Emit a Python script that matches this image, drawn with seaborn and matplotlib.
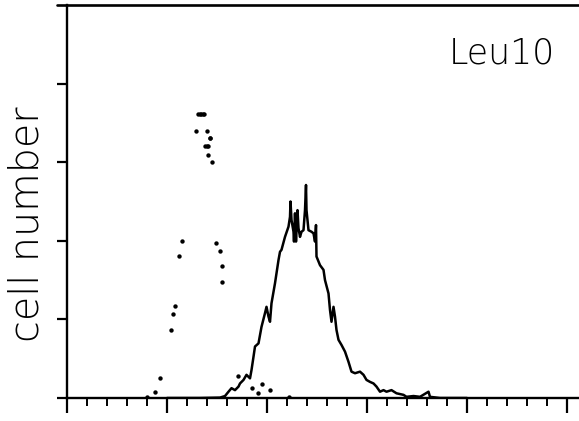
import matplotlib
matplotlib.use("Agg")
import matplotlib.pyplot as plt
import seaborn as sns
import pandas as pd
from matplotlib.ticker import MultipleLocator, FixedLocator

# Leu10-stained sample (solid histogram trace)
leu10_channel = [200, 266, 306, 316, 323, 329, 336, 343, 346, 353, 359, 366, 369, 373, 376,
                 383, 389, 396, 399, 403, 406, 409, 416, 423, 426, 429, 436, 443, 446, 447,
                 449, 453, 454, 456, 458, 461, 463, 466, 469, 473, 476, 478, 479, 483, 489,
                 493, 496, 498, 499, 506, 513, 516, 523, 526, 529, 533, 536, 539, 543, 549,
                 556, 563, 569, 576, 586, 593, 599, 606, 613, 619, 626, 633, 639, 649, 659,
                 673, 679, 693, 706, 723, 726, 746, 766, 800]
leu10_count = [0.0, 0.0, 0.1, 0.5, 1.6, 2.5, 2.0, 2.9, 3.7, 4.6, 5.9, 5.0, 7.1, 10.5, 13.1,
               13.9, 18.1, 21.6, 23.2, 20.7, 19.4, 24.1, 29.2, 35.1, 37.2, 37.7, 41.0, 43.6, 46.1, 50.0,
               45.3, 42.3, 39.8, 47.0, 39.8, 47.8, 43.2, 41.0, 42.3, 42.7, 47.8, 54.2, 47.8, 42.7, 42.3,
               41.9, 39.8, 44.0, 36.0, 33.8, 32.6, 30.0, 26.6, 22.4, 19.4, 23.2, 20.7, 17.3, 14.8, 13.5,
               11.8, 9.2, 6.7, 6.3, 6.7, 5.9, 4.6, 4.1, 3.7, 2.9, 1.6, 2.0, 1.6, 2.0, 1.2,
               0.8, 0.3, 0.5, 0.3, 1.6, 0.3, 0.0, 0.0, 0.0]

# Control sample (dotted trace)
control_channel = [160, 175, 186, 207, 212, 215, 224, 230, 258, 262, 265, 268, 271, 274, 279,
                   276, 279, 282, 285, 281, 285, 289, 297, 305, 309, 309, 341, 369, 381, 389,
                   405, 444]
control_count = [0.3, 1.4, 5.0, 17.3, 21.3, 23.4, 36.2, 40.0, 68.0, 72.3, 72.3, 72.3, 72.3, 72.3, 68.0,
                 64.0, 64.0, 64.0, 66.1, 61.8, 66.1, 60.0, 39.5, 37.4, 33.6, 29.4, 5.6, 2.5, 1.3, 3.5,
                 2.0, 0.3]

x_major = [0, 200, 400, 600, 800, 1000]
y_major = [0, 20, 40, 60, 80]

sns.set_style("white")
plt.rcParams['font.family'] = ['DejaVu Sans']

fig = plt.figure(figsize=(5.79, 4.21), dpi=100)
ax = fig.add_axes([67 / 579, 23 / 421, 512 / 579, 393 / 421])

leu = pd.DataFrame({"channel": leu10_channel, "count": leu10_count})
ctl = pd.DataFrame({"channel": control_channel, "count": control_count})

sns.lineplot(data=leu, x="channel", y="count", sort=False, estimator=None,
             color="black", linewidth=1.8, ax=ax)
sns.scatterplot(data=ctl, x="channel", y="count", color="black", s=10,
                linewidth=0, ax=ax)

ax.set_xlim(0, 1024)
ax.set_ylim(0, 100)
ax.xaxis.set_major_locator(FixedLocator(x_major))
ax.xaxis.set_minor_locator(MultipleLocator(40))
ax.yaxis.set_major_locator(FixedLocator(y_major))
ax.set_xticklabels([])
ax.set_yticklabels([])
ax.set_xlabel("")
ax.set_ylabel("")

for side in ["right", "top"]:
    ax.spines[side].set_visible(False)
for side in ["left", "bottom"]:
    ax.spines[side].set_linewidth(1.7)
    ax.spines[side].set_color("black")

ax.axhline(100, xmin=-0.02, xmax=1.0, color="black", linewidth=1.9, clip_on=False)

ax.tick_params(axis="x", which="major", direction="out", length=11, width=1.6, color="black", bottom=True)
ax.tick_params(axis="x", which="minor", direction="out", length=6, width=1.4, color="black", bottom=True)
ax.tick_params(axis="y", which="major", direction="out", length=7.5, width=1.6, color="black", left=True)

ax.text(0.953, 0.852, "Leu10", transform=ax.transAxes, ha="right", va="baseline",
        fontsize=25, fontweight="light", color="black")
fig.text(27 / 579, 1 - 224 / 421, "cell number", rotation=90, ha="center", va="center",
         fontsize=28.5, fontweight="light", color="black")

fig.savefig("out.png", dpi=100)
